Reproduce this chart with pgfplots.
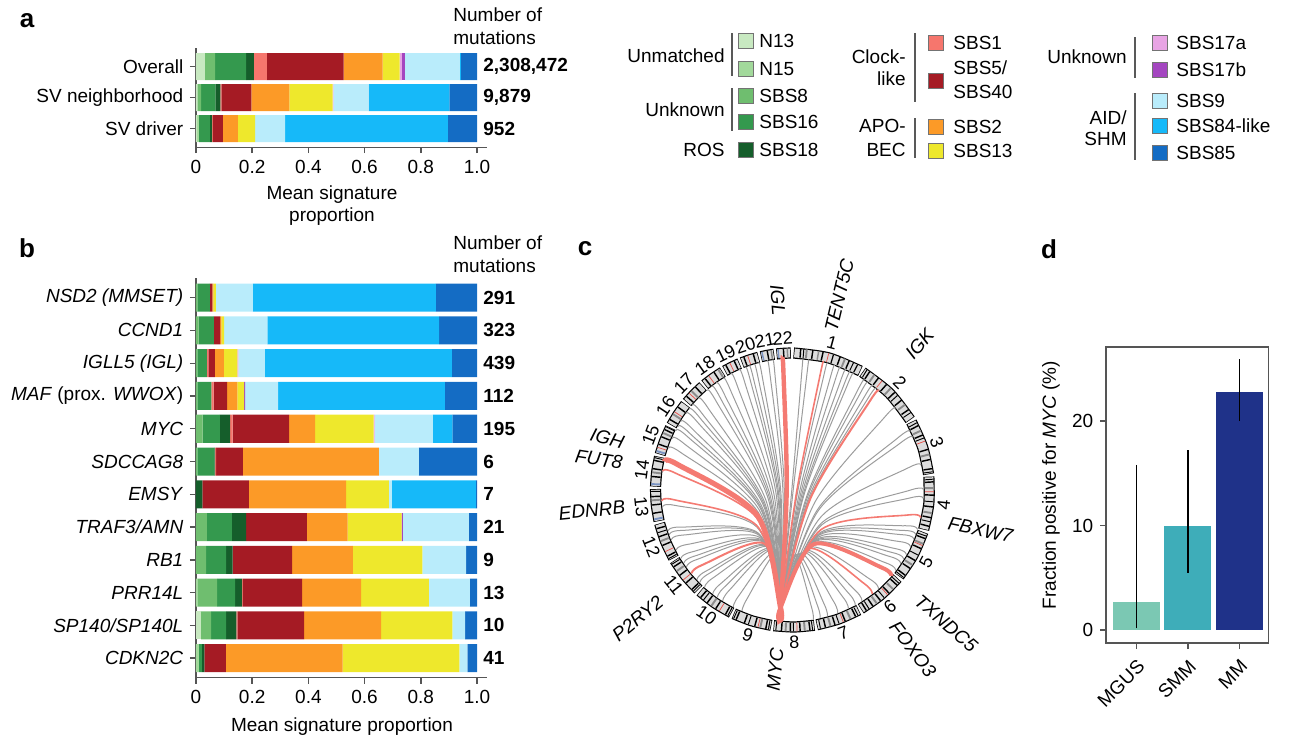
\documentclass[border=0pt]{standalone}
\usepackage{fontspec}
\setmainfont{Liberation Sans}
\usepackage{pgfplots}
\usepackage{pgfplotstable}
\pgfplotsset{compat=1.18}

% signature colours
\definecolor{cN13}{HTML}{C8E9C1}
\definecolor{cN15}{HTML}{A2D99B}
\definecolor{cSBS8}{HTML}{6FBE6F}
\definecolor{cSBS16}{HTML}{34994E}
\definecolor{cSBS18}{HTML}{155E2B}
\definecolor{cSBS1}{HTML}{F6766D}
\definecolor{cSBS5}{HTML}{A51B24}
\definecolor{cSBS2}{HTML}{FC9A27}
\definecolor{cSBS13}{HTML}{EEE82C}
\definecolor{cSBS17a}{HTML}{E8A4E4}
\definecolor{cSBS17b}{HTML}{A446C0}
\definecolor{cSBS9}{HTML}{B9ECFB}
\definecolor{cSBS84}{HTML}{16B9F9}
\definecolor{cSBS85}{HTML}{146CC4}
\definecolor{axisgray}{HTML}{555555}
\definecolor{chordred}{HTML}{F47A72}
\definecolor{chordgray}{HTML}{9C9C9C}
\definecolor{ringfill}{HTML}{DCDCDC}
\definecolor{bandgray}{HTML}{8C8C8C}
\definecolor{bandred}{HTML}{E8504A}
\definecolor{bandblue}{HTML}{7A94C4}
\definecolor{cMGUS}{HTML}{7BC8B3}
\definecolor{cSMM}{HTML}{3EADB9}
\definecolor{cMM}{HTML}{1F3289}

% panel a: mean signature proportions (y = row, top row highest)
\pgfplotstableread{
y N13 N15 SBS8 SBS16 SBS18 SBS1 SBS5 SBS2 SBS13 SBS17a SBS17b SBS9 SBS84 SBS85
2 0.032 0 0.036 0.110 0.028 0.046 0.273 0.139 0.061 0.008 0.010 0.196 0.004 0.057
1 0.005 0 0.013 0.051 0.018 0.003 0.107 0.135 0.154 0.003 0 0.125 0.288 0.098
0 0.004 0.006 0 0.039 0.008 0.003 0.036 0.053 0.061 0 0 0.107 0.579 0.104
}\tabA

% panel b: per gene
\pgfplotstableread{
y N13 N15 SBS8 SBS16 SBS18 SBS1 SBS5 SBS2 SBS13 SBS17a SBS17b SBS9 SBS84 SBS85
11 0 0 0.005 0.044 0 0 0.009 0.004 0.009 0 0 0.131 0.652 0.146
10 0 0 0.009 0.055 0 0 0.022 0.004 0.010 0 0 0.154 0.611 0.135
9 0 0 0.005 0.034 0 0.005 0.023 0.032 0.048 0.004 0 0.094 0.666 0.089
8 0 0 0.005 0.050 0 0.008 0.048 0.036 0.024 0 0.004 0.117 0.594 0.114
7 0 0 0.024 0.061 0.036 0.009 0.201 0.093 0.208 0.004 0 0.207 0.069 0.088
6 0 0 0.005 0.060 0.003 0.004 0.095 0.484 0 0 0 0.142 0 0.207
5 0 0 0 0 0.023 0 0.165 0.346 0.152 0 0 0.011 0.299 0.004
4 0 0 0.039 0.089 0.050 0 0.217 0.145 0.192 0 0.004 0.235 0 0.029
3 0 0 0.036 0.071 0.023 0 0.212 0.216 0.248 0 0 0.155 0 0.039
2 0 0.005 0.070 0.064 0.025 0.003 0.211 0.210 0.241 0 0 0.146 0 0.025
1 0.018 0 0.036 0.053 0.037 0.003 0.238 0.274 0.253 0 0 0.046 0 0.042
0 0 0.010 0 0.011 0.009 0 0.076 0.416 0.415 0 0 0.029 0 0.034
}\tabB

\pgfplotsset{
  sigbar/.style={
    xbar stacked, x=140.5pt, xmin=0, xmax=1.036,
    axis x line*=bottom, axis y line*=left,
    axis line style={axisgray, line width=0.7pt},
    tick style={axisgray, line width=0.7pt},
    tick align=outside, major tick length=3pt,
    xtick={0,0.2,0.4,0.6,0.8,1}, xticklabels={0,0.2,0.4,0.6,0.8,1.0},
    clip=false,
  },
}

% circos helpers: chromosome arc, cytoband, chord from MYC (8q24)
\newcommand\chrom[5]{%
  \addplot[data cs=polar, smooth, draw=black, line width=5.6pt] coordinates {(#1,137) (#2,137) (#3,137)};
  \addplot[data cs=polar, smooth, draw=ringfill, line width=4.4pt] coordinates {(#4,137) (#2,137) (#5,137)};}
\newcommand\band[3]{%
  \addplot[data cs=polar, draw=#3, line width=4.4pt] coordinates {(#1,137) (#2,137)};}
% chord: MYC end, a point just inside each end (radial start), and the curve midpoint
\newcommand\chord[5]{%
  \addplot[data cs=polar, smooth, draw=#4, line width=#5] coordinates {(-95.8,131) (-95.8,118.2) (#2,#3) (#1,118.2) (#1,131)};}
\newcommand\gch[3]{\chord{#1}{#2}{#3}{chordgray}{0.5pt}}
\newcommand\swatch[3]{%
  \addplot[only marks, mark=square*, mark size=3.8pt, mark options={fill=#3, draw=black!55, line width=0.35pt}] coordinates {(#1,#2)};}
\newcommand\sep[3]{%
  \addplot[draw=gray!70!black, line width=0.6pt] coordinates {(#1,#2) (#1,#3)};}

\begin{document}
\fontsize{9.5pt}{11.4pt}\selectfont
\begin{tikzpicture}

% ---------------- panel a
\begin{axis}[sigbar, y=15.5pt, ymin=-0.6, ymax=2.6, bar width=0.87,
  at={(98pt,-24pt)}, anchor=north west,
  ytick={0,1,2}, yticklabels={SV driver,SV neighborhood,Overall}]
\pgfplotsinvokeforeach{N13,N15,SBS8,SBS16,SBS18,SBS1,SBS5,SBS2,SBS13,SBS17a,SBS17b,SBS9,SBS84,SBS85}{
  \addplot[fill=c#1, draw=none] table[x=#1, y=y] {\tabA};
}
\end{axis}

% ---------------- panel b
\begin{axis}[sigbar, y=16.385pt, ymin=-0.6, ymax=11.6, bar width=0.855,
  at={(98pt,-139pt)}, anchor=north west,
  ytick={0,1,2,3,4,5,6,7,8,9,10,11},
  yticklabels={\textit{CDKN2C},\textit{SP140/SP140L},\textit{PRR14L},\textit{RB1},\textit{TRAF3/AMN},\textit{EMSY},\textit{SDCCAG8},\textit{MYC},\textit{MAF} (prox. \textit{WWOX}),\textit{IGLL5 (IGL)},\textit{CCND1},\textit{NSD2 (MMSET)}}]
\pgfplotsinvokeforeach{N13,N15,SBS8,SBS16,SBS18,SBS1,SBS5,SBS2,SBS13,SBS17a,SBS17b,SBS9,SBS84,SBS85}{
  \addplot[fill=c#1, draw=none] table[x=#1, y=y] {\tabB};
}
\end{axis}

% ---------------- panel c (circos, units = px, centre at 0,0)
\begin{axis}[at={(296.25pt,-345pt)}, anchor=south west, x=0.5pt, y=0.5pt,
  xmin=-200, xmax=200, ymin=-200, ymax=200, hide axis, clip=false]
% chromosomes 1..22, clockwise from the top
\chrom{89.5}{74.9}{60.3}{89.2}{60.6}
\chrom{59.3}{45.05}{30.8}{59.0}{31.1}
\chrom{29.8}{18.2}{6.6}{29.5}{6.9}
\chrom{5.6}{-5.6}{-16.8}{5.3}{-16.5}
\chrom{-17.8}{-28.4}{-39.0}{-18.1}{-38.7}
\chrom{-40.0}{-50.05}{-60.1}{-40.3}{-59.8}
\chrom{-61.1}{-70.45}{-79.8}{-61.4}{-79.5}
\chrom{-80.8}{-89.35}{-97.9}{-81.1}{-97.6}
\chrom{-98.9}{-107.15}{-115.4}{-99.2}{-115.1}
\chrom{-116.4}{-124.4}{-132.4}{-116.7}{-132.1}
\chrom{-133.4}{-141.3}{-149.2}{-133.7}{-148.9}
\chrom{-150.2}{-158.05}{-165.9}{-150.5}{-165.6}
\chrom{-166.9}{-173.65}{-180.4}{-167.2}{-180.1}
\chrom{-181.4}{-187.7}{-194.0}{-181.7}{-193.7}
\chrom{-195.0}{-201.05}{-207.1}{-195.3}{-206.8}
\chrom{-208.1}{-213.4}{-218.7}{-208.4}{-218.4}
\chrom{-219.7}{-224.45}{-229.2}{-220.0}{-228.9}
\chrom{-230.2}{-234.8}{-239.4}{-230.5}{-239.1}
\chrom{-240.4}{-243.85}{-247.3}{-240.7}{-247.0}
\chrom{-248.3}{-252}{-255.7}{-248.6}{-255.4}
\chrom{-256.7}{-259.5}{-262.3}{-257.0}{-262.0}
\chrom{-263.3}{-266.3}{-269.3}{-263.6}{-269.0}
% cytobands
\band{84.6}{83.8}{bandgray}\band{79.6}{79.0}{bandgray}\band{68.6}{67.8}{bandgray}
\band{87.0}{86.4}{black}\band{82.0}{81.4}{black}\band{77.8}{77.2}{black}\band{70.6}{70.0}{black}\band{66.6}{66.0}{black}\band{62.8}{62.3}{black}\band{75.3}{75.0}{bandred}
\band{85.6}{85.2}{black}\band{73.4}{72.9}{black}\band{64.6}{64.2}{black}
\band{55.0}{54.2}{bandgray}\band{46.4}{45.6}{bandgray}\band{37.6}{36.8}{bandgray}
\band{57.2}{56.6}{black}\band{52.8}{52.2}{black}\band{48.6}{48.0}{black}\band{44.0}{43.4}{black}\band{39.8}{39.2}{black}\band{35.0}{34.4}{black}\band{50.8}{50.5}{bandred}
\band{58.4}{58.0}{black}\band{42.2}{41.8}{black}\band{33.4}{33.0}{black}
\band{25.2}{24.4}{bandgray}\band{15.0}{14.2}{bandgray}
\band{27.4}{26.8}{black}\band{23.2}{22.6}{black}\band{17.0}{16.4}{black}\band{12.8}{12.2}{black}\band{9.0}{8.4}{black}\band{20.4}{20.1}{bandred}
\band{28.6}{28.2}{black}\band{21.8}{21.4}{black}\band{7.6}{7.2}{black}
\band{1.2}{0.4}{bandgray}\band{-9.0}{-9.8}{bandgray}
\band{3.6}{3.0}{black}\band{-1.8}{-2.4}{black}\band{-6.6}{-7.2}{black}\band{-11.0}{-11.6}{black}\band{-14.6}{-15.2}{black}\band{-0.6}{-0.9}{bandred}
\band{4.6}{4.2}{black}\band{-4.6}{-5.0}{black}\band{-12.8}{-13.2}{black}
\band{-22.0}{-22.8}{bandgray}\band{-31.6}{-32.4}{bandgray}
\band{-19.8}{-20.4}{black}\band{-24.2}{-24.8}{black}\band{-29.6}{-30.2}{black}\band{-33.4}{-34.0}{black}\band{-36.8}{-37.4}{black}\band{-23.0}{-23.3}{bandred}
\band{-18.8}{-19.2}{black}\band{-27.2}{-27.6}{black}\band{-38.0}{-38.4}{black}
\band{-44.2}{-45.0}{bandgray}\band{-53.0}{-53.8}{bandgray}
\band{-42.0}{-42.6}{black}\band{-46.6}{-47.2}{black}\band{-51.2}{-51.8}{black}\band{-55.0}{-55.6}{black}\band{-58.2}{-58.8}{black}\band{-47.6}{-47.9}{bandred}
\band{-41.0}{-41.4}{black}\band{-49.4}{-49.8}{black}\band{-57.0}{-57.4}{black}
\band{-65.4}{-66.2}{bandgray}\band{-74.0}{-74.8}{bandgray}
\band{-63.2}{-63.8}{black}\band{-67.8}{-68.4}{black}\band{-72.2}{-72.8}{black}\band{-76.2}{-76.8}{black}\band{-68.8}{-69.1}{bandred}
\band{-62.2}{-62.6}{black}\band{-70.6}{-71.0}{black}\band{-78.4}{-78.8}{black}
\band{-84.6}{-85.4}{bandgray}\band{-92.4}{-93.2}{bandgray}
\band{-82.6}{-83.2}{black}\band{-86.6}{-87.2}{black}\band{-90.6}{-91.2}{black}\band{-94.2}{-94.8}{black}\band{-88.0}{-88.3}{bandred}
\band{-81.6}{-82.0}{black}\band{-89.4}{-89.8}{black}\band{-96.6}{-97.0}{black}
\band{-102.8}{-103.6}{bandgray}
\band{-100.6}{-101.2}{black}\band{-105.2}{-105.8}{black}\band{-109.6}{-110.2}{black}\band{-113.2}{-113.8}{black}\band{-104.0}{-104.3}{bandred}
\band{-99.6}{-100.0}{black}\band{-108.0}{-108.4}{black}\band{-114.4}{-114.8}{black}
\band{-124.6}{-125.4}{bandgray}
\band{-118.0}{-118.6}{black}\band{-122.6}{-123.2}{black}\band{-126.8}{-127.4}{black}\band{-130.2}{-130.8}{black}\band{-121.0}{-121.3}{bandred}
\band{-117.0}{-117.4}{black}\band{-128.8}{-129.2}{black}
\band{-144.6}{-145.4}{bandgray}
\band{-135.0}{-135.6}{black}\band{-138.6}{-139.2}{black}\band{-142.6}{-143.2}{black}\band{-146.8}{-147.4}{black}\band{-140.4}{-140.7}{bandred}
\band{-134.2}{-134.6}{black}\band{-148.2}{-148.6}{black}
\band{-158.4}{-159.2}{bandgray}
\band{-151.8}{-152.4}{black}\band{-156.6}{-157.2}{black}\band{-160.4}{-161.0}{black}\band{-163.8}{-164.4}{black}\band{-154.0}{-154.3}{bandred}
\band{-150.8}{-151.2}{black}\band{-162.2}{-162.6}{black}
\band{-175.4}{-176.2}{bandgray}\band{-167.6}{-168.4}{bandblue}
\band{-170.2}{-170.8}{black}\band{-173.6}{-174.2}{black}\band{-177.0}{-177.6}{black}\band{-179.2}{-179.6}{black}
\band{-186.8}{-187.6}{bandgray}\band{-182.0}{-182.8}{bandblue}
\band{-185.2}{-185.8}{black}\band{-188.4}{-189.0}{black}\band{-191.8}{-192.4}{black}\band{-193.0}{-193.4}{black}
\band{-203.4}{-204.2}{bandgray}\band{-195.6}{-196.4}{bandblue}
\band{-198.6}{-199.2}{black}\band{-201.8}{-202.4}{black}\band{-205.0}{-205.6}{black}\band{-197.4}{-197.7}{bandred}\band{-206.4}{-206.8}{black}
\band{-212.0}{-212.8}{bandgray}
\band{-209.6}{-210.2}{black}\band{-215.6}{-216.2}{black}\band{-213.4}{-213.7}{bandred}
\band{-224.0}{-224.8}{bandgray}
\band{-221.2}{-221.8}{black}\band{-226.4}{-227.0}{black}\band{-223.0}{-223.3}{bandred}
\band{-238.0}{-238.8}{bandgray}
\band{-231.6}{-232.2}{black}\band{-236.0}{-236.6}{black}\band{-233.6}{-233.9}{bandred}
\band{-241.6}{-242.2}{black}\band{-245.4}{-246.0}{black}\band{-243.6}{-243.9}{bandred}
\band{-249.6}{-250.2}{black}\band{-253.6}{-254.2}{black}\band{-251.4}{-251.7}{bandred}
\band{-261.0}{-261.6}{bandgray}\band{-257.2}{-257.8}{bandblue}
\band{-259.4}{-260.0}{black}
\band{-267.6}{-268.2}{bandgray}\band{-263.8}{-264.4}{bandblue}
\band{-266.0}{-266.6}{black}
% grey partner chords (left fan)
\gch{-261.4}{-178.6}{8.2}\gch{-259}{-177.4}{9.6}\gch{-255.1}{-175.45}{11.8}
\gch{-253}{-174.4}{12.9}\gch{-250.7}{-173.25}{14.2}\gch{-249}{-172.4}{15.2}
\gch{-246.1}{-170.95}{16.8}\gch{-242.1}{-168.95}{19.0}\gch{-238.2}{-167}{21.1}
\gch{-234.6}{-165.2}{23.0}\gch{-232}{-163.9}{24.4}\gch{-229.4}{-162.6}{25.8}
\gch{-224.2}{-160}{28.5}\gch{-220.2}{-158}{30.5}\gch{-218}{-156.9}{31.7}
\gch{-215.7}{-155.75}{32.8}\gch{-211.5}{-153.65}{34.8}\gch{-209}{-152.4}{36.1}
\gch{-207}{-151.4}{37.0}\gch{-203.2}{-149.5}{38.8}\gch{-198.6}{-147.2}{40.9}
\gch{-172.5}{-134.15}{51.4}\gch{-161.7}{-128.75}{55.0}\gch{-160}{-127.9}{55.5}
\gch{-157.6}{-126.7}{56.2}\gch{-152.6}{-124.2}{57.6}\gch{-148.4}{-122.1}{58.7}
\gch{-146}{-120.9}{59.3}\gch{-144}{-119.9}{59.8}\gch{-136.8}{-116.3}{61.4}
\gch{-135}{-115.4}{61.7}\gch{-132.1}{-113.95}{62.2}\gch{-127.5}{-111.65}{63.0}
\gch{-125}{-110.4}{63.4}\gch{-122.2}{-109}{63.8}\gch{-116.9}{-106.35}{64.4}
\gch{-112.7}{-104.25}{64.8}
% grey partner chords (right fan)
\gch{-274.5}{-185.15}{0.7}\gch{82.9}{-6.45}{0.7}\gch{74.7}{-10.55}{5.4}
\gch{71.4}{-12.2}{7.3}\gch{68.8}{-13.5}{8.8}\gch{66.2}{-14.8}{10.2}
\gch{64}{-15.9}{11.5}\gch{62.4}{-16.7}{12.4}\gch{56.8}{-19.5}{15.5}
\gch{55}{-20.4}{16.5}\gch{52.4}{-21.7}{17.9}\gch{50.5}{-22.65}{19.0}
\gch{38.4}{-28.7}{25.5}\gch{26.4}{-34.7}{31.7}\gch{23.6}{-36.1}{33.0}
\gch{10.9}{-42.45}{39.1}\gch{0}{-47.9}{43.9}\gch{-3.8}{-49.8}{45.5}
\gch{-17.6}{-56.7}{50.8}\gch{-20}{-57.9}{51.7}\gch{-22.2}{-59}{52.4}
\gch{-25.8}{-60.8}{53.7}\gch{-29.7}{-62.75}{54.9}\gch{-32}{-63.9}{55.6}
\gch{-34.3}{-65.05}{56.3}\gch{-38}{-66.9}{57.3}\gch{-49}{-72.4}{60.1}
\gch{-58}{-76.9}{62.0}\gch{-61.4}{-78.6}{62.6}\gch{-64.8}{-80.3}{63.1}
\gch{-69.8}{-82.8}{63.8}\gch{-74.5}{-85.15}{64.4}\gch{-77.8}{-86.8}{64.7}
\gch{-80.8}{-88.3}{64.9}
% highlighted partners
\chord{76.5}{-9.65}{4.4}{chordred}{0.8pt}
\chord{49}{-23.4}{19.8}{chordred}{1pt}
\chord{-12.2}{-54}{48.8}{chordred}{0.8pt}
\chord{-52.5}{-74.15}{60.9}{chordred}{0.8pt}
\chord{-41}{-68.4}{58.2}{chordred}{2pt}
\chord{-188.2}{-142}{45.3}{chordred}{0.8pt}
\chord{-175.2}{-135.5}{50.4}{chordred}{0.8pt}
\chord{-140.4}{-118.1}{60.6}{chordred}{1pt}
\chord{-192.6}{-144.2}{43.5}{chordred}{2.6pt}
\chord{-265.6}{-180.7}{5.8}{chordred}{2.2pt}
\end{axis}

% chromosome numbers and partner genes
\foreach \n/\a/\r in {1/74.9/-15.1, 2/45.05/-44.95, 3/18.2/-71.8, 4/-5.6/84.4, 5/-28.4/61.6,
  6/-50.05/39.95, 7/-70.45/19.55, 8/-89.35/0.65, 9/-107.15/-17.15, 10/-124.4/-34.4,
  11/-141.3/-51.3, 12/-158.05/-68.05, 13/-173.65/-83.65, 14/172.3/82.3, 15/158.95/68.95,
  16/146.6/56.6, 17/135.55/45.55, 18/125.2/35.2, 19/116.15/26.15, 20/108/18, 21/100.5/10.5, 22/93.7/3.7}
  \node[rotate=\r, inner sep=0pt, font={\fontsize{9pt}{10pt}\selectfont}] at ([shift={(\a:76pt)}]396.25pt,-245pt) {\n};
\foreach \g/\a/\rr/\rot/\anc in {IGL/94.4/87.5pt/-85.6/east, TENT5C/76.5/81.5pt/76.5/west,
  IGK/49/88.5pt/49/west, FBXW7/-12/79.5pt/-12/west, TXNDC5/-40.9/82.5pt/-40.9/west,
  FOXO3/-52.9/83.5pt/-52.9/west, MYC/264.5/79.5pt/84.5/east, P2RY2/219.6/85.5pt/39.6/east,
  EDNRB/185.8/84pt/5.8/east, FUT8/171/86pt/-9/east, IGH/164.5/87.5pt/-15.5/east}
  \node[font=\itshape, rotate=\rot, anchor=\anc, inner sep=0pt] at ([shift={(\a:\rr)}]396.25pt,-245pt) {\g};

% ---------------- panel d
\begin{axis}[at={(553pt,-321.5pt)}, anchor=south west,
  x=25.75pt, y=5.225pt, xmin=0.41, xmax=3.57, ymin=-1.24, ymax=27.1,
  axis line style={axisgray, line width=0.7pt},
  tick style={axisgray, line width=0.7pt}, tick align=outside, major tick length=3pt,
  xtick pos=left, ytick pos=left,
  xtick={1,2,3}, xticklabels={MGUS,SMM,MM},
  xticklabel style={rotate=45, anchor=north east},
  ytick={0,10,20}, yticklabels={0,10,20},
  ybar, bar width=0.91]
\addplot[fill=cMGUS, draw=none, bar shift=0pt,
  error bars/.cd, y dir=both, y explicit, error mark=none, error bar style={black, line width=0.7pt}]
  coordinates {(1,2.7) += (0,13.1) -= (0,2.55)};
\addplot[fill=cSMM, draw=none, bar shift=0pt,
  error bars/.cd, y dir=both, y explicit, error mark=none, error bar style={black, line width=0.7pt}]
  coordinates {(2,10.0) += (0,7.2) -= (0,4.5)};
\addplot[fill=cMM, draw=none, bar shift=0pt,
  error bars/.cd, y dir=both, y explicit, error mark=none, error bar style={black, line width=0.7pt}]
  coordinates {(3,22.8) += (0,3.1) -= (0,2.8)};
\end{axis}

% ---------------- legend swatches and group rules (canvas in px)
\begin{axis}[at={(0pt,0pt)}, anchor=north west, x=0.5pt, y=0.5pt, y dir=reverse,
  xmin=0, xmax=1292, ymin=0, ymax=744, hide axis, clip=false]
\swatch{745.5}{41}{cN13}\swatch{745.5}{69}{cN15}\swatch{745.5}{95.5}{cSBS8}
\swatch{745.5}{122}{cSBS16}\swatch{745.5}{149.5}{cSBS18}
\swatch{936}{42.5}{cSBS1}\swatch{936}{81}{cSBS5}\swatch{936}{127}{cSBS2}\swatch{936}{150.5}{cSBS13}
\swatch{1159.5}{42.5}{cSBS17a}\swatch{1159.5}{69.5}{cSBS17b}\swatch{1159.5}{100.5}{cSBS9}
\swatch{1159.5}{125.5}{cSBS84}\swatch{1159.5}{152.5}{cSBS85}
\sep{732}{33}{76}\sep{732}{88}{131}
\sep{915}{33}{102}\sep{915}{118}{158}
\sep{1135}{37}{78}\sep{1135}{93}{160}
\end{axis}

% ---------------- free text (px coordinates)
\begin{scope}[x=0.5pt, y=-0.5pt, every node/.style={inner sep=0pt}]
\node[font={\fontsize{13pt}{13pt}\selectfont\bfseries}] at (27,21) {a};
\node[font={\fontsize{13pt}{13pt}\selectfont\bfseries}] at (27,248) {b};
\node[font={\fontsize{13pt}{13pt}\selectfont\bfseries}] at (585,249) {c};
\node[font={\fontsize{13pt}{13pt}\selectfont\bfseries}] at (1049,249) {d};
\node[anchor=west] at (453,15) {Number of};
\node[anchor=west] at (453,38) {mutations};
\node[anchor=west] at (453,243) {Number of};
\node[anchor=west] at (453,266) {mutations};
\node at (332,195) {Mean signature};
\node at (332,217) {proportion};
\node at (342,727) {Mean signature proportion};
\node[rotate=90] at (1051,485) {Fraction positive for \textit{MYC} (\%)};
\foreach \yy/\t in {66.6/{2,308,472}, 97.6/{9,879}, 128.6/952}
  \node[anchor=west, font=\bfseries] at (483,\yy) {\t};
\foreach \yy/\t in {297.7/291, 330.4/323, 363.2/439, 396.0/112, 428.8/195, 461.5/6,
  494.3/7, 527.1/21, 559.8/9, 592.6/13, 625.4/10, 658.2/41}
  \node[anchor=west, font=\bfseries] at (483,\yy) {\t};
% legend labels
\node[anchor=west] at (759,41) {N13};
\node[anchor=west] at (759,69) {N15};
\node[anchor=west] at (759,95.5) {SBS8};
\node[anchor=west] at (759,122) {SBS16};
\node[anchor=west] at (759,149.5) {SBS18};
\node[anchor=east] at (725,56) {Unmatched};
\node[anchor=east] at (725,110) {Unknown};
\node[anchor=east] at (725,150) {ROS};
\node[anchor=west] at (953,42.5) {SBS1};
\node[anchor=west] at (953,68) {SBS5/};
\node[anchor=west] at (953,92) {SBS40};
\node[anchor=west] at (953,127) {SBS2};
\node[anchor=west] at (953,150.5) {SBS13};
\node[anchor=east] at (906,57) {Clock-};
\node[anchor=east] at (906,79) {like};
\node[anchor=east] at (906,126) {APO-};
\node[anchor=east] at (906,150) {BEC};
\node[anchor=west] at (1176,42.5) {SBS17a};
\node[anchor=west] at (1176,69.5) {SBS17b};
\node[anchor=west] at (1176,100.5) {SBS9};
\node[anchor=west] at (1176,125.5) {SBS84-like};
\node[anchor=west] at (1176,152.5) {SBS85};
\node[anchor=east] at (1127,57) {Unknown};
\node[anchor=east] at (1127,118) {AID/};
\node[anchor=east] at (1127,139) {SHM};
\end{scope}

\pgfresetboundingbox
\path (0,0) rectangle (646pt,-372pt);
\end{tikzpicture}
\end{document}
